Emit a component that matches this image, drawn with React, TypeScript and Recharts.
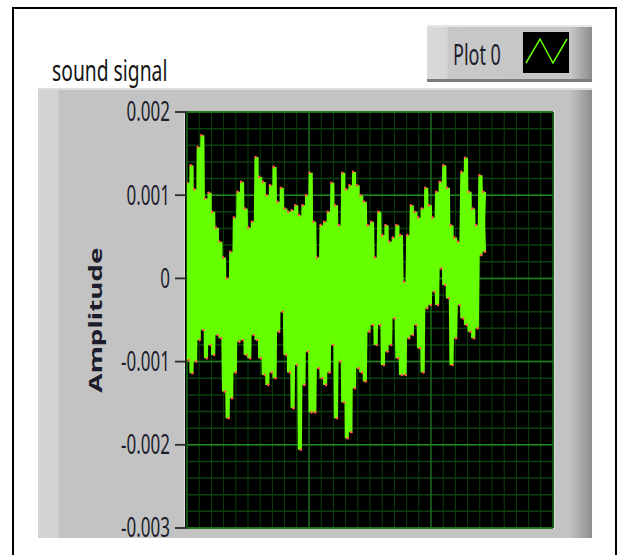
import { Legend, Line, LineChart, ReferenceLine, XAxis, YAxis } from "recharts";

// envelope of the recording: one positive and one
// negative excursion per pair of samples (left to right)
const upperPeaks = [
  0.00115, 0.00136, 0.00107, 0.00158, 0.00172, 0.00096, 0.00103, 0.0008, 0.00061, 0.00044,
  0.00025, 0.0, 0.00032, 0.00073, 0.00104, 0.00116, 0.00084, 0.00061, 0.00068, 0.00146,
  0.00122, 0.00116, 0.001, 0.00112, 0.00134, 0.00092, 0.00109, 0.00084, 0.0008, 0.00082,
  0.00088, 0.00076, 0.00088, 0.001, 0.00127, 0.00068, 0.00025, 0.00064, 0.00068, 0.0008,
  0.00115, 0.00088, 0.00064, 0.00127, 0.00107, 0.00112, 0.00128, 0.00112, 0.001, 0.00092,
  0.00064, 0.00068, 0.00025, 0.0008, 0.00052, 0.00064, 0.00044, 0.00049, 0.00064, 0.00052,
  -0.00004, 0.00052, 0.00088, 0.0008, 0.00073, 0.00084, 0.00109, 0.00088, 0.00073, 0.00104,
  0.00116, 0.00136, 0.00109, 0.00064, 0.00049, 0.00044, 0.00128, 0.00145, 0.00104, 0.00084,
  0.00064, 0.00124, 0.00104,
];
const lowerPeaks = [
  -0.00098, -0.00114, -0.001, -0.00074, -0.00062, -0.00096, -0.0008, -0.00092, -0.00068, -0.00072,
  -0.00136, -0.00168, -0.00144, -0.00113, -0.00076, -0.00074, -0.00092, -0.00096, -0.00068, -0.00074,
  -0.00096, -0.00116, -0.00128, -0.00113, -0.0012, -0.00064, -0.0004, -0.00092, -0.00113, -0.00156,
  -0.00104, -0.00206, -0.00128, -0.00088, -0.00161, -0.00161, -0.00108, -0.0012, -0.00128, -0.00113,
  -0.0008, -0.00168, -0.001, -0.00149, -0.00192, -0.00185, -0.00132, -0.00108, -0.00113, -0.00124,
  -0.00064, -0.00056, -0.0008, -0.00056, -0.00104, -0.00088, -0.0008, -0.00048, -0.00096, -0.00116,
  -0.00116, -0.00072, -0.00068, -0.00056, -0.00084, -0.00113, -0.00036, -0.00032, -0.00016, -0.00032,
  0.00012, -0.00008, -0.00024, -0.00104, -0.00072, -0.00032, -0.00048, -0.00056, -0.00064, -0.00072,
  -0.0006, 0.00028, 0.00032,
];
const SAMPLE_PERIOD = 0.0148;

const yTicks = [0.002, 0.001, 0, -0.001, -0.002, -0.003];
const xTicks = [0, 1, 2, 3];
const chartTitle = "sound signal";
const yLabel = "Amplitude";
const plotName = "Plot 0";

// "amp" runs peak, trough, peak...; "alt" is the same excursions in the
// opposite phase, so the fast oscillation renders as a solid band like on screen
const signal = upperPeaks.flatMap((hi, i) => [
  { t: 2 * i * SAMPLE_PERIOD, amp: hi, alt: lowerPeaks[i] },
  { t: (2 * i + 1) * SAMPLE_PERIOD, amp: lowerPeaks[i], alt: hi },
]);

// fine grid: 5 divisions per y tick, 10 per x tick
const minorY = Array.from({ length: 26 }, (_, i) => -0.003 + i * 0.0002);
const minorX = Array.from({ length: 31 }, (_, i) => i * 0.1);

const W = 621;
const H = 600;
const MARGIN = { top: 112, right: 68, bottom: 42, left: 77 };
const Y_W = 110;
const X_H = 30;

// the screenshot is stretched vertically, text included
const STRETCH = 1.55;
const FONT = "'Noto Sans', 'DejaVu Sans', sans-serif";
const TRACE = "#66ff00";

const YTick = (props: any) => {
  const { x, y, payload } = props;
  const v = payload.value as number;
  const fs = 17;
  return (
    <text
      transform={`translate(${x},${y}) scale(1,${STRETCH})`}
      x={0}
      y={fs * 0.357}
      textAnchor="end"
      fontFamily={FONT}
      fontSize={fs}
      fill="#1c1c2c"
    >
      {v === 0 ? "0" : v.toFixed(3)}
    </text>
  );
};

const AmplitudeLabel = (props: any) => {
  const { x, y, height } = props.viewBox;
  return (
    <text
      transform={`translate(${x + 25},${y + height / 2}) scale(1,${STRETCH}) rotate(-90)`}
      textAnchor="middle"
      fontFamily={FONT}
      fontWeight={700}
      fontSize={18}
      fill="#1c1c2c"
    >
      {yLabel}
    </text>
  );
};

const PlotLegend = (props: any) => {
  const item = props.payload && props.payload[0];
  const name = item ? item.value : plotName;
  return (
    <svg width={165} height={57} style={{ display: "block" }}>
      <defs>
        <linearGradient id="lgBevel" x1="0" x2="1" y1="0" y2="0">
          <stop offset="0" stopColor="#dadada" />
          <stop offset="0.12" stopColor="#d6d6d6" />
          <stop offset="0.13" stopColor="#c8c8c8" />
          <stop offset="0.87" stopColor="#c6c6c6" />
          <stop offset="1" stopColor="#8c8c8c" />
        </linearGradient>
      </defs>
      <rect x={0} y={0} width={165} height={57} fill="url(#lgBevel)" />
      <rect x={0} y={0} width={165} height={2} fill="#e6e6e6" />
      <rect x={0} y={54} width={165} height={3} fill="#7c7c7c" />
      <text transform="translate(26,40) scale(1,1.6)" fontFamily={FONT} fontSize={18} fill="#1c1c2c">
        {name}
      </text>
      <rect x={96} y={7} width={46} height={41} fill="#000" />
      <polyline points="99,38 113,14 126,38 140,14" fill="none" stroke={TRACE} strokeWidth={1.5} />
    </svg>
  );
};

export default function App() {
  return (
    <div
      style={{
        position: "fixed",
        left: 0,
        top: 0,
        width: 621,
        height: 555,
        overflow: "hidden",
        background: "#fff",
      }}
    >
      {/* outer frame */}
      <div
        style={{
          position: "absolute",
          left: 12,
          top: 7,
          width: 605,
          height: 600,
          border: "2px solid #000",
          boxSizing: "border-box",
          background: "#fff",
        }}
      />
      {/* grey graph panel */}
      <div
        style={{
          position: "absolute",
          left: 38,
          top: 88,
          width: 554,
          height: 450,
          boxSizing: "border-box",
          borderTop: "2px solid #dedede",
          background:
            "linear-gradient(to right, #d4d4d4 0px, #d2d2d2 20px, #c3c3c3 21px, #c3c3c3 532px, #8e8e8e 554px)",
        }}
      />
      {/* plot background */}
      <div
        style={{
          position: "absolute",
          left: 184,
          top: 111,
          width: 371,
          height: 418,
          boxSizing: "border-box",
          border: "1px solid #dcdcdc",
          background: "#000",
        }}
      />
      {/* grid layer, kept under the trace */}
      <div style={{ position: "absolute", left: 0, top: 0 }}>
        <LineChart
          width={W}
          height={H}
          data={signal}
          margin={{
            top: MARGIN.top,
            right: MARGIN.right,
            bottom: MARGIN.bottom + X_H,
            left: MARGIN.left + Y_W,
          }}
        >
          <XAxis type="number" dataKey="t" domain={[0, 3]} allowDataOverflow hide />
          <YAxis type="number" domain={[-0.003, 0.002]} allowDataOverflow hide />
          {minorX.map((v) => (
            <ReferenceLine key={`mx${v}`} x={v} stroke="#0c400c" strokeWidth={1} />
          ))}
          {minorY.map((v) => (
            <ReferenceLine key={`my${v}`} y={v} stroke="#0c400c" strokeWidth={1.5} />
          ))}
          {xTicks.map((v) => (
            <ReferenceLine key={`Mx${v}`} x={v} stroke="#1e841e" strokeWidth={1} />
          ))}
          {yTicks.map((v) => (
            <ReferenceLine key={`My${v}`} y={v} stroke="#1e841e" strokeWidth={1.5} />
          ))}
        </LineChart>
      </div>
      {/* axes and signal */}
      <div style={{ position: "absolute", left: 0, top: 0 }}>
        <LineChart width={W} height={H} data={signal} margin={MARGIN}>
          <XAxis
            type="number"
            dataKey="t"
            domain={[0, 3]}
            ticks={xTicks}
            allowDataOverflow
            tick={false}
            tickSize={8}
            tickLine={{ stroke: "#2a2a2a", strokeWidth: 1.5 }}
            axisLine={false}
            height={X_H}
          />
          <YAxis
            type="number"
            domain={[-0.003, 0.002]}
            ticks={yTicks}
            allowDataOverflow
            width={Y_W}
            tickSize={12}
            tickMargin={5}
            tick={<YTick />}
            tickLine={{ stroke: "#2a2a2a", strokeWidth: 1.8 }}
            axisLine={false}
            label={{ content: <AmplitudeLabel /> }}
          />
          <Legend
            layout="horizontal"
            verticalAlign="middle"
            align="center"
            wrapperStyle={{ position: "absolute", left: 427, top: 25, width: 165, height: 57 }}
            content={<PlotLegend />}
          />
          <Line
            type="linear"
            dataKey="alt"
            name={plotName}
            legendType="none"
            stroke={TRACE}
            strokeWidth={2.3}
            dot={false}
            activeDot={false}
            isAnimationActive={false}
          />
          <Line
            type="linear"
            dataKey="amp"
            name={plotName}
            stroke={TRACE}
            strokeWidth={2.3}
            dot={{ r: 1.3, fill: "#ff5a4a", stroke: "none" }}
            activeDot={false}
            isAnimationActive={false}
          />
        </LineChart>
      </div>
      {/* graph caption */}
      <svg
        width={621}
        height={555}
        style={{ position: "absolute", left: 0, top: 0, pointerEvents: "none" }}
      >
        <text transform={`translate(52,81) scale(1,${STRETCH})`} fontFamily={FONT} fontSize={19.3} fill="#161616">
          {chartTitle}
        </text>
      </svg>
    </div>
  );
}
